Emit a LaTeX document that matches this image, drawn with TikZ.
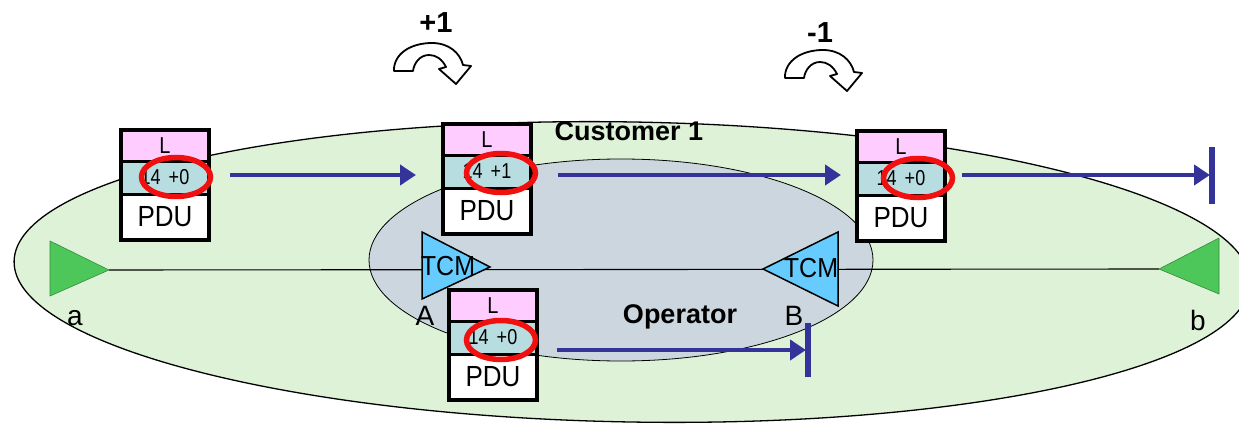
\documentclass[tikz,border=0pt]{standalone}
\usepackage{fontspec}
\usepackage{graphicx}
\setmainfont{Liberation Sans}
\usetikzlibrary{arrows.meta,shapes.geometric}
\definecolor{custgreen}{RGB}{222,242,216}
\definecolor{opgrey}{RGB}{204,214,222}
\definecolor{pinkL}{RGB}{255,204,255}
\definecolor{tealC}{RGB}{184,221,224}
\definecolor{pathblue}{RGB}{51,51,153}
\definecolor{mepgreen}{RGB}{77,199,89}
\definecolor{tcmblue}{RGB}{102,204,255}
\definecolor{ringred}{RGB}{240,16,16}
\newcommand\pdustack[4]{%
  \node[Lpart] (#1L) at (#2,#3) {\scalebox{1}[1.15]{L}};
  \node[cpart] (#1C) at (#1L.south) {\scalebox{1}[1.2]{#4}};
  \node[ppart] (#1P) at (#1C.south) {\scalebox{1}[1.12]{PDU}};
  \draw[line width=3.5pt] (#1L.north west) rectangle (#1P.south east);
}
\begin{document}
\begin{tikzpicture}[x=1pt,y=-1pt,
  pdupart/.style={draw=black, line width=3pt, minimum width=88pt, inner sep=0pt, outer sep=0pt, anchor=north},
  Lpart/.style={pdupart, fill=pinkL, minimum height=31pt, font=\fontsize{20}{20}\selectfont},
  cpart/.style={pdupart, fill=tealC, minimum height=33pt, font=\fontsize{18}{18}\selectfont},
  ppart/.style={pdupart, fill=white, minimum height=46pt, font=\fontsize{26}{26}\selectfont},
  redring/.style={ellipse, draw=ringred, line width=5.5pt, minimum width=69pt, minimum height=39pt, inner sep=0pt},
  bluearrow/.style={draw=pathblue, line width=4.5pt, -{Triangle[length=16pt,width=20pt]}},
  barline/.style={draw=pathblue, line width=5.5pt},
  meptri/.style={fill=mepgreen, draw=mepgreen!70!black, line width=0.6pt},
  tcmtri/.style={fill=tcmblue, draw=black, line width=1.5pt},
  lbl/.style={inner sep=0pt, anchor=base, font=\fontsize{28}{28}\selectfont},
  tcmtxt/.style={inner sep=0pt, anchor=base, font=\fontsize{25}{25}\selectfont},
  boldlbl/.style={inner sep=0pt, anchor=base, font=\fontsize{27}{27}\selectfont\bfseries},
  turnarrow/.style={fill=white, draw=black, line width=1.8pt, line join=round}
]
\useasboundingbox (0,0) rectangle (1239,425);
\clip (0,0) rectangle (1239,425);
% domains
\draw[fill=custgreen, line width=1.3pt, rotate around={-1:(632,272)}] (632,272) ellipse [x radius=618pt, y radius=150pt];
\draw[fill=opgrey, line width=0.8pt] (621,260) ellipse [x radius=252pt, y radius=101pt];
% trail line
\coordinate (aapex) at (109,270);
\coordinate (bapex) at (1159,269);
\draw[line width=1.1pt] (aapex) -- (bapex);
% MEPs
\draw[meptri] (50,241) -- (aapex) -- (50,296) -- cycle;
\draw[meptri] (1219,238) -- (bapex) -- (1219,294) -- cycle;
% TCM
\coordinate (Aapex) at (490,267);
\coordinate (Bapex) at (763,269);
\draw[tcmtri] (422,232) -- (Aapex) -- (422,299) -- cycle;
\draw[tcmtri] (838,232) -- (Bapex) -- (838,306) -- cycle;
\node[tcmtxt] (tcmA) at (448,275) {\scalebox{1}[1.1]{TCM}};
\node[tcmtxt] (tcmB) at (811,277) {\scalebox{1}[1.1]{TCM}};
% labels
\node[lbl] (la) at (75,325) {a};
\node[lbl] (lA) at (425,325) {A};
\node[lbl] (lB) at (794,325) {B};
\node[lbl] (lb) at (1198,330) {b};
\node[boldlbl] (cust) at (629,140) {Customer 1};
\node[boldlbl] (oper) at (680,323) {Operator};
% PDU stacks
\pdustack{b1}{165}{130}{14 \,+0}
\pdustack{b2}{487}{124}{14 \,+1}
\pdustack{b3}{901}{131}{14 \,+0}
\pdustack{b4}{493}{290}{14 \,+0}
% red rings
\node[redring] (r1) at (176,177) {};
\node[redring] (r2) at (501,173) {};
\node[redring] (r3) at (918,178) {};
\node[redring] (r4) at (501,340) {};
% blue arrows
\coordinate (s1) at (230,175); \coordinate (e1) at (416,175);
\coordinate (s2) at (558,175); \coordinate (e2) at (841,175);
\coordinate (s3) at (962,175); \coordinate (e3) at (1210,175);
\coordinate (s4) at (557,350); \coordinate (e4) at (806,350);
\draw[bluearrow] (s1) -- (e1);
\draw[bluearrow] (s2) -- (e2);
\draw[bluearrow] (s3) -- (e3);
\draw[bluearrow] (s4) -- (e4);
\coordinate (t3a) at (1212,147); \coordinate (t3b) at (1212,204);
\coordinate (t4a) at (808,323); \coordinate (t4b) at (808,377);
\draw[barline] (t3a) -- (t3b);
\draw[barline] (t4a) -- (t4b);
% +1 / -1
\node[boldlbl, font=\fontsize{29}{29}\selectfont\bfseries] (plus) at (436,33) {+1};
\node[boldlbl, font=\fontsize{29}{29}\selectfont\bfseries] (minus) at (820,43) {-1};
\foreach \ox/\oy in {394/71, 785/78}{
\begin{scope}[shift={(\ox,\oy)}]
\draw[turnarrow] (0,0) -- (0,-3) .. controls (2,-20) and (20,-28) .. (38,-28)
  .. controls (55,-28) and (66,-18) .. (69,-6) -- (77,-5) -- (62,13) -- (45,-2) -- (52,-4)
  .. controls (48,-12) and (42,-16) .. (35,-16) .. controls (26,-16) and (20,-8) .. (19,0) -- cycle;
\end{scope}}
\end{tikzpicture}
\end{document}
